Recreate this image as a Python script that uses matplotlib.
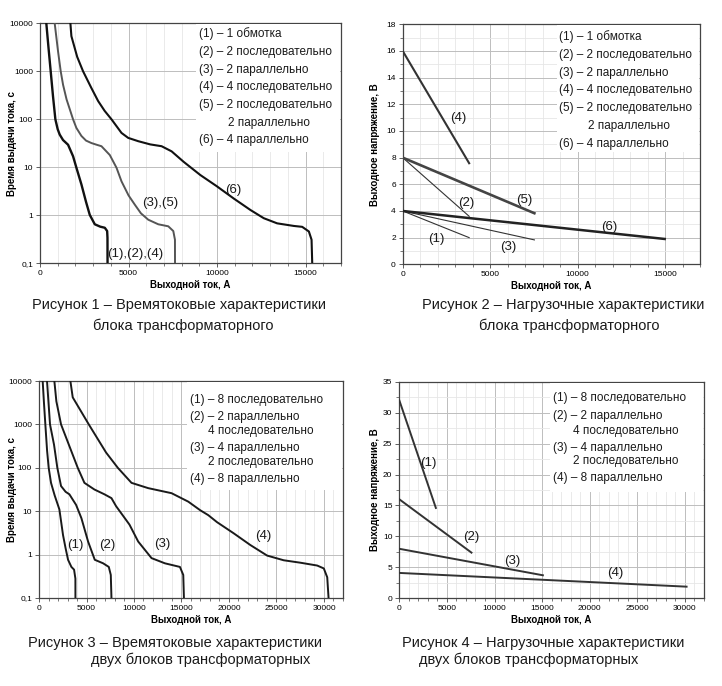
import matplotlib
matplotlib.use("Agg")
import matplotlib.pyplot as plt
from matplotlib.patches import Rectangle
from matplotlib.ticker import MultipleLocator, NullLocator

plt.rcParams['font.family'] = ['Liberation Sans', 'DejaVu Sans']

# ---------------- data: Figure 1 (time-current, one block) ----------------
f1_a_x = [357, 480, 604, 735, 868, 1000, 1113, 1300, 1585, 1867, 2056, 2339, 2600, 2811, 3094, 3400, 3660, 3792, 3811, 3815]
f1_a_t = [10000, 3100, 1000, 300, 100, 62, 48, 37, 29.5, 17, 9.8, 4.4, 1.9, 1.02, 0.65, 0.58, 0.55, 0.47, 0.34, 0.1]
f1_b_x = [830, 1019, 1170, 1302, 1500, 1867, 2056, 2339, 2600, 2905, 3200, 3471, 3943, 4320, 4603, 5000, 5358, 5700, 6113, 6679, 7245, 7528, 7622, 7625]
f1_b_t = [10000, 2600, 1000, 525, 260, 100, 66, 45, 36, 32, 29.5, 27.5, 18, 9.8, 5.1, 2.6, 1.66, 1.1, 0.81, 0.65, 0.59, 0.47, 0.31, 0.1]
f1_c_x = [1717, 1773, 2100, 2433, 2900, 3283, 3650, 4037, 4603, 4981, 5547, 6225, 6867, 7433, 8113, 9055, 9998, 10940, 11885, 12638, 13393, 14337, 14808, 15185, 15337, 15375]
f1_c_t = [10000, 5400, 2000, 1000, 450, 240, 150, 100, 52, 41, 35, 30, 27.5, 21.5, 13, 6.9, 4.0, 2.24, 1.29, 0.87, 0.68, 0.60, 0.575, 0.46, 0.31, 0.1]
f1_legend = ["(1) – 1 обмотка", "(2) – 2 последовательно", "(3) – 2 параллельно",
             "(4) – 4 последовательно", "(5) – 2 последовательно", "2 параллельно",
             "(6) – 4 параллельно"]
f1_labels = ["(1),(2),(4)", "(3),(5)", "(6)"]
f1_label_x = [5377, 6791, 10940]
f1_label_t = [0.156, 1.78, 3.39]

# ---------------- data: Figure 2 (load lines, one block) ----------------
f2_names = ["(1)", "(2)", "(3)", "(4)", "(5)", "(6)"]
f2_i0 = [0, 0, 0, 0, 0, 0]
f2_i1 = [3800, 3800, 7530, 3800, 7530, 14980]
f2_u0 = [4, 8, 4, 16, 8, 4]
f2_u1 = [2.0, 3.6, 1.83, 7.58, 3.83, 1.9]
f2_label_x = [1944, 3619, 6038, 3180, 6952, 11813]
f2_label_u = [1.88, 4.62, 1.32, 10.95, 4.82, 2.78]
f2_legend = f1_legend

# ---------------- data: Figure 3 (time-current, two blocks) ----------------
f3_1_x = [387, 520, 668, 850, 1019, 1265, 1652, 2145, 2531, 2800, 3058, 3410, 3691, 3831, 3835]
f3_1_t = [10000, 3200, 1000, 250, 100, 45, 23, 11, 2.8, 1.4, 0.76, 0.52, 0.45, 0.28, 0.1]
f3_2_x = [844, 1000, 1160, 1582, 1930, 2320, 2800, 3199, 3902, 4464, 5167, 5870, 6749, 7346, 7557, 7627]
f3_2_t = [10000, 3200, 1000, 340, 100, 38, 28, 24.5, 14, 6.9, 2.0, 0.76, 0.63, 0.52, 0.34, 0.1]
f3_3_x = [1617, 1828, 2320, 3199, 4078, 4781, 5834, 6889, 7627, 8120, 9033, 9525, 10440, 11846, 13252, 14835, 15185, 15255]
f3_3_t = [10000, 3400, 1000, 316, 100, 45, 31.6, 24.5, 20, 13, 6.9, 4.9, 2.0, 0.83, 0.63, 0.52, 0.34, 0.1]
f3_4_x = [3304, 3550, 5240, 7065, 8296, 9737, 11494, 13955, 15712, 16977, 17821, 18735, 20490, 22250, 24010, 25760, 27520, 29280, 29980, 30340, 30480]
f3_4_t = [10000, 4200, 1000, 224, 100, 45, 34, 26, 16.6, 10.5, 8.1, 5.6, 3.1, 1.66, 0.95, 0.74, 0.65, 0.56, 0.48, 0.30, 0.1]
f3_legend = ["(1) – 8 последовательно", "(2) – 2 параллельно", "4 последовательно",
             "(3) – 4 параллельно", "2 последовательно", "(4) – 8 параллельно"]
f3_labels = ["(1)", "(2)", "(3)", "(4)"]
f3_label_x = [3796, 7137, 12937, 23590]
f3_label_t = [1.64, 1.64, 1.73, 2.7]

# ---------------- data: Figure 4 (load lines, two blocks) ----------------
f4_names = ["(1)", "(2)", "(3)", "(4)"]
f4_i1 = [3840, 7580, 15080, 30170]
f4_u0 = [32, 16, 8, 4.1]
f4_u1 = [14.6, 7.38, 3.72, 1.88]
f4_label_x = [3046, 7532, 11912, 22660]
f4_label_u = [21.9, 9.95, 6.08, 4.14]
f4_legend = f3_legend

captions = [
    ("Рисунок 1 – Времятоковые характеристики", "блока трансформаторного"),
    ("Рисунок 2 – Нагрузочные характеристики", "блока трансформаторного"),
    ("Рисунок 3 – Времятоковые характеристики", "двух блоков трансформаторных"),
    ("Рисунок 4 – Нагрузочные характеристики", "двух блоков трансформаторных"),
]

W, H = 722, 686
fig = plt.figure(figsize=(W / 100, H / 100), dpi=100)


def px_axes(l, t, r, b):
    return fig.add_axes([l / W, 1 - b / H, (r - l) / W, (b - t) / H])


MAJ = "#bdbdbd"
MIN = "#e6e6e6"
SP = "#444444"


def style(ax):
    ax.set_axisbelow(True)
    for s in ax.spines.values():
        s.set_color(SP)
        s.set_linewidth(0.9)
    ax.grid(True, which="major", color=MAJ, lw=0.7)
    ax.grid(True, which="minor", color=MIN, lw=0.6)
    ax.tick_params(which="major", labelsize=6, length=3, width=0.6, color=SP, pad=2)
    ax.tick_params(which="minor", length=2, width=0.5, color=SP)


def labels(ax, ylab, ylab_x):
    ax.set_ylabel(ylab, fontsize=7, fontweight="bold", va="center")
    ax.yaxis.set_label_coords(ylab_x, 0.5)
    ax.set_xlabel("Выходной ток, А", fontsize=7, fontweight="bold", labelpad=2)


def legend_block(lines, x_px, ys_px, indents, box):
    l, t, r, b = box
    fig.patches.append(Rectangle((l / W, 1 - b / H), (r - l) / W, (b - t) / H,
                                 transform=fig.transFigure, facecolor="white",
                                 edgecolor="none", zorder=1))
    for txt, y, ind in zip(lines, ys_px, indents):
        fig.text((x_px + ind) / W, 1 - y / H, txt, fontsize=8.5, color="#1a1a1a",
                 ha="left", va="center", zorder=5)


def log_axis(ax, xmax):
    ax.set_yscale("log")
    ax.set_ylim(0.1, 10000)
    ax.set_xlim(0, xmax)
    ax.set_yticks([0.1, 1, 10, 100, 1000, 10000])
    ax.set_yticklabels(["0,1", "1", "10", "100", "1000", "10000"])
    ax.yaxis.set_minor_locator(NullLocator())


# ---------------- Figure 1 ----------------
ax1 = px_axes(40, 23.3, 341, 263.3)
style(ax1)
log_axis(ax1, 17000)
ax1.xaxis.set_major_locator(MultipleLocator(5000))
ax1.xaxis.set_minor_locator(MultipleLocator(1000))
ax1.plot(f1_a_x, f1_a_t, color="#111111", lw=1.7, zorder=3)
ax1.plot(f1_b_x, f1_b_t, color="#555555", lw=1.4, zorder=3)
ax1.plot(f1_c_x, f1_c_t, color="#111111", lw=1.5, zorder=3)
for s, x, y in zip(f1_labels, f1_label_x, f1_label_t):
    ax1.text(x, y, s, fontsize=9.5, ha="center", va="center", color="#1a1a1a", zorder=4)
labels(ax1, "Время выдачи тока, с", -0.094)

# ---------------- Figure 2 ----------------
ax2 = px_axes(402.7, 24.3, 700, 264.3)
style(ax2)
ax2.set_xlim(0, 17000)
ax2.set_ylim(0, 18)
ax2.xaxis.set_major_locator(MultipleLocator(5000))
ax2.xaxis.set_minor_locator(MultipleLocator(1000))
ax2.yaxis.set_major_locator(MultipleLocator(2))
ax2.yaxis.set_minor_locator(MultipleLocator(1))
f2_style = [("#333333", 0.8), ("#333333", 0.8), ("#333333", 0.8),
            ("#333333", 1.5), ("#444444", 1.9), ("#222222", 1.8)]
for i in range(len(f2_names)):
    c, w = f2_style[i]
    ax2.plot([f2_i0[i], f2_i1[i]], [f2_u0[i], f2_u1[i]], color=c, lw=w, zorder=3)
    ax2.text(f2_label_x[i], f2_label_u[i], f2_names[i], fontsize=9.5, ha="center",
             va="center", color="#1a1a1a", zorder=4)
labels(ax2, "Выходное напряжение, В", -0.093)

# ---------------- Figure 3 ----------------
ax3 = px_axes(39, 381, 343, 598)
style(ax3)
log_axis(ax3, 32000)
ax3.xaxis.set_major_locator(MultipleLocator(5000))
ax3.xaxis.set_minor_locator(MultipleLocator(1000))
for xs, ts in [(f3_1_x, f3_1_t), (f3_2_x, f3_2_t), (f3_3_x, f3_3_t), (f3_4_x, f3_4_t)]:
    ax3.plot(xs, ts, color="#1a1a1a", lw=1.4, zorder=3)
for s, x, y in zip(f3_labels, f3_label_x, f3_label_t):
    ax3.text(x, y, s, fontsize=9.5, ha="center", va="center", color="#1a1a1a", zorder=4)
labels(ax3, "Время выдачи тока, с", -0.09)

# ---------------- Figure 4 ----------------
ax4 = px_axes(399.3, 381.7, 704, 598.3)
style(ax4)
ax4.set_xlim(0, 32000)
ax4.set_ylim(0, 35)
ax4.xaxis.set_major_locator(MultipleLocator(5000))
ax4.xaxis.set_minor_locator(MultipleLocator(1000))
ax4.yaxis.set_major_locator(MultipleLocator(5))
ax4.yaxis.set_minor_locator(MultipleLocator(2.5))
for i in range(len(f4_names)):
    ax4.plot([0, f4_i1[i]], [f4_u0[i], f4_u1[i]], color="#333333", lw=1.4, zorder=3)
    ax4.text(f4_label_x[i], f4_label_u[i], f4_names[i], fontsize=9.5, ha="center",
             va="center", color="#1a1a1a", zorder=4)
labels(ax4, "Выходное напряжение, В", -0.08)

# legend blocks: white boxes drawn over the grid, then text
legend_block(f1_legend, 199, [33.3, 51.7, 70, 87.3, 105, 122.7, 140],
             [0, 0, 0, 0, 0, 28.7, 0], (196, 24, 340, 152))
legend_block(f2_legend, 559, [36.7, 55, 72.7, 90, 108.3, 126, 144],
             [0, 0, 0, 0, 0, 28.7, 0], (557, 25, 699, 152))
legend_block(f3_legend, 190, [400, 416.7, 431, 448.3, 461.7, 479],
             [0, 0, 18.3, 0, 18.3, 0], (187, 382, 342, 490))
legend_block(f4_legend, 553.3, [398.3, 416, 430.7, 447.7, 460.7, 478.3],
             [0, 0, 20, 0, 20, 0], (550, 383, 703, 492))

# ---------------- captions ----------------
cap_pos = [((178.5, 305), (183.5, 326)),
           ((563.5, 305), (569.5, 326)),
           ((175, 643), (200.8, 660)),
           ((543.5, 643), (528.5, 660))]
for (l1, l2), ((x1, y1), (x2, y2)) in zip(captions, cap_pos):
    fig.text(x1 / W, 1 - y1 / H, l1, fontsize=10.5, ha="center", va="center", color="#1a1a1a")
    fig.text(x2 / W, 1 - y2 / H, l2, fontsize=10.5, ha="center", va="center", color="#1a1a1a")

fig.savefig("out.png", dpi=100, facecolor="white")
